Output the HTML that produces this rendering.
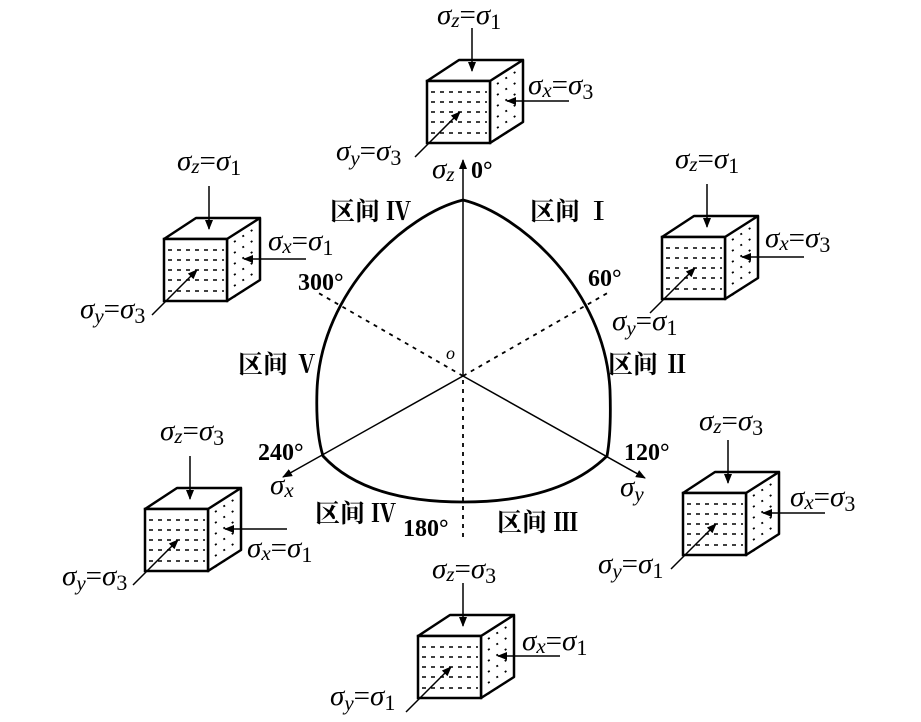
<!DOCTYPE html>
<html><head><meta charset="utf-8"><style>
html,body{margin:0;padding:0;background:#fff;}
svg{display:block;}
text{font-family:"Liberation Serif","Noto Serif CJK SC",serif;fill:#000;}
.s{font-size:29px;}
.g{font-style:italic;}
.sub{font-size:21px;font-style:italic;}
.num{font-size:22px;}
.b{font-weight:bold;font-size:24px;}
.cn{font-family:"Liberation Serif","Noto Serif CJK SC","Noto Sans CJK SC",serif;font-weight:bold;font-size:25px;}
</style></head><body>
<svg width="921" height="722" viewBox="0 0 921 722" xmlns="http://www.w3.org/2000/svg">
<defs>
<marker id="ah" markerWidth="10" markerHeight="8" refX="9" refY="4" orient="auto" markerUnits="userSpaceOnUse">
<path d="M0,0 L10,4 L0,8 Z" fill="#000"/>
</marker>
<g id="cube">
<path d="M0,0 L32,-21 L96,-21 L63,0 Z M63,0 L96,-21 L96,41 L63,62 Z" fill="#fff" stroke="#000" stroke-width="2.5" stroke-linejoin="round"/>
<rect x="0" y="0" width="63" height="62" fill="#fff" stroke="#000" stroke-width="2.5"/>
<g stroke="#000" stroke-width="1.5" stroke-dasharray="4,5">
<line x1="4" y1="11" x2="60" y2="11"/><line x1="4" y1="21" x2="60" y2="21"/><line x1="4" y1="31" x2="60" y2="31"/><line x1="4" y1="41" x2="60" y2="41"/><line x1="4" y1="52" x2="60" y2="52"/>
</g>
<g stroke="#000" stroke-width="1.8" stroke-dasharray="2,8">
<line x1="70" y1="3" x2="93" y2="-12"/><line x1="70" y1="14" x2="93" y2="-1"/><line x1="70" y1="25" x2="93" y2="10"/><line x1="70" y1="36" x2="93" y2="21"/><line x1="70" y1="47" x2="93" y2="32"/><line x1="70" y1="58" x2="93" y2="43"/>
</g>
<line x1="45" y1="-53" x2="45" y2="-10" stroke="#000" stroke-width="1.5" marker-end="url(#ah)"/>
<line x1="142" y1="20" x2="80" y2="20" stroke="#000" stroke-width="1.5" marker-end="url(#ah)"/>
<line x1="-12" y1="76" x2="33" y2="31" stroke="#000" stroke-width="1.5" marker-end="url(#ah)"/>
</g>
</defs>

<use href="#cube" x="427" y="81"/>
<use href="#cube" x="164" y="239"/>
<use href="#cube" x="662" y="237"/>
<use href="#cube" x="145" y="509"/>
<use href="#cube" x="683" y="493"/>
<use href="#cube" x="418" y="636"/>

<text class="s" x="437" y="24"><tspan class="g">σ</tspan><tspan class="sub" dy="3">z</tspan><tspan dy="-3">=</tspan><tspan class="g">σ</tspan><tspan class="num" dy="5">1</tspan></text>
<text class="s" x="528" y="94"><tspan class="g">σ</tspan><tspan class="sub" dy="3">x</tspan><tspan dy="-3">=</tspan><tspan class="g">σ</tspan><tspan class="num" dy="5">3</tspan></text>
<text class="s" x="336" y="160"><tspan class="g">σ</tspan><tspan class="sub" dy="5">y</tspan><tspan dy="-5">=</tspan><tspan class="g">σ</tspan><tspan class="num" dy="5">3</tspan></text>

<text class="s" x="177" y="170"><tspan class="g">σ</tspan><tspan class="sub" dy="3">z</tspan><tspan dy="-3">=</tspan><tspan class="g">σ</tspan><tspan class="num" dy="5">1</tspan></text>
<text class="s" x="268" y="250"><tspan class="g">σ</tspan><tspan class="sub" dy="3">x</tspan><tspan dy="-3">=</tspan><tspan class="g">σ</tspan><tspan class="num" dy="5">1</tspan></text>
<text class="s" x="80" y="318"><tspan class="g">σ</tspan><tspan class="sub" dy="5">y</tspan><tspan dy="-5">=</tspan><tspan class="g">σ</tspan><tspan class="num" dy="5">3</tspan></text>

<text class="s" x="675" y="168"><tspan class="g">σ</tspan><tspan class="sub" dy="3">z</tspan><tspan dy="-3">=</tspan><tspan class="g">σ</tspan><tspan class="num" dy="5">1</tspan></text>
<text class="s" x="765" y="247"><tspan class="g">σ</tspan><tspan class="sub" dy="3">x</tspan><tspan dy="-3">=</tspan><tspan class="g">σ</tspan><tspan class="num" dy="5">3</tspan></text>
<text class="s" x="612" y="330"><tspan class="g">σ</tspan><tspan class="sub" dy="5">y</tspan><tspan dy="-5">=</tspan><tspan class="g">σ</tspan><tspan class="num" dy="5">1</tspan></text>

<text class="s" x="160" y="440"><tspan class="g">σ</tspan><tspan class="sub" dy="3">z</tspan><tspan dy="-3">=</tspan><tspan class="g">σ</tspan><tspan class="num" dy="5">3</tspan></text>
<text class="s" x="247" y="557"><tspan class="g">σ</tspan><tspan class="sub" dy="3">x</tspan><tspan dy="-3">=</tspan><tspan class="g">σ</tspan><tspan class="num" dy="5">1</tspan></text>
<text class="s" x="62" y="585"><tspan class="g">σ</tspan><tspan class="sub" dy="5">y</tspan><tspan dy="-5">=</tspan><tspan class="g">σ</tspan><tspan class="num" dy="5">3</tspan></text>

<text class="s" x="699" y="430"><tspan class="g">σ</tspan><tspan class="sub" dy="3">z</tspan><tspan dy="-3">=</tspan><tspan class="g">σ</tspan><tspan class="num" dy="5">3</tspan></text>
<text class="s" x="790" y="506"><tspan class="g">σ</tspan><tspan class="sub" dy="3">x</tspan><tspan dy="-3">=</tspan><tspan class="g">σ</tspan><tspan class="num" dy="5">3</tspan></text>
<text class="s" x="598" y="573"><tspan class="g">σ</tspan><tspan class="sub" dy="5">y</tspan><tspan dy="-5">=</tspan><tspan class="g">σ</tspan><tspan class="num" dy="5">1</tspan></text>

<text class="s" x="432" y="578"><tspan class="g">σ</tspan><tspan class="sub" dy="3">z</tspan><tspan dy="-3">=</tspan><tspan class="g">σ</tspan><tspan class="num" dy="5">3</tspan></text>
<text class="s" x="522" y="650"><tspan class="g">σ</tspan><tspan class="sub" dy="3">x</tspan><tspan dy="-3">=</tspan><tspan class="g">σ</tspan><tspan class="num" dy="5">1</tspan></text>
<text class="s" x="330" y="705"><tspan class="g">σ</tspan><tspan class="sub" dy="5">y</tspan><tspan dy="-5">=</tspan><tspan class="g">σ</tspan><tspan class="num" dy="5">1</tspan></text>

<line x1="463" y1="376" x2="463" y2="160" stroke="#000" stroke-width="1.5" marker-end="url(#ah)"/>
<line x1="463" y1="376" x2="283" y2="477" stroke="#000" stroke-width="1.5" marker-end="url(#ah)"/>
<line x1="463" y1="376" x2="645" y2="478" stroke="#000" stroke-width="1.5" marker-end="url(#ah)"/>
<g stroke="#000" stroke-width="1.8" stroke-dasharray="4,5">
<line x1="463" y1="380" x2="463" y2="540"/>
<line x1="463" y1="376" x2="315" y2="291"/>
<line x1="463" y1="376" x2="611" y2="291"/>
</g>
<path d="M463,200 C520,214 605,290 610,390 C611,420 610,440 607,456 C570,492 515,502 463,502 C411,502 356,492 323,456 C318,440 316,420 317,390 C321,290 406,214 463,200 Z" fill="none" stroke="#000" stroke-width="2.8"/>

<text class="s" x="432" y="178"><tspan class="g">σ</tspan><tspan class="sub" dy="3">z</tspan></text>
<text class="b" x="471" y="178">0°</text>
<text class="cn" x="330" y="220">区间 Ⅳ</text>
<text class="cn" x="530" y="220">区间 Ⅰ</text>
<text class="b" x="298" y="290">300°</text>
<text class="b" x="588" y="286">60°</text>
<text x="446" y="359" style="font-size:18px;font-style:italic">o</text>
<text class="cn" x="238" y="373">区间 Ⅴ</text>
<text class="cn" x="608" y="373">区间 Ⅱ</text>
<text class="b" x="258" y="460">240°</text>
<text class="b" x="624" y="460">120°</text>
<text class="s" x="270" y="494"><tspan class="g">σ</tspan><tspan class="sub" dy="3">x</tspan></text>
<text class="s" x="620" y="496"><tspan class="g">σ</tspan><tspan class="sub" dy="5">y</tspan></text>
<text class="cn" x="315" y="522">区间 Ⅳ</text>
<text class="b" x="403" y="536">180°</text>
<text class="cn" x="497" y="531">区间 Ⅲ</text>
</svg>
</body></html>
